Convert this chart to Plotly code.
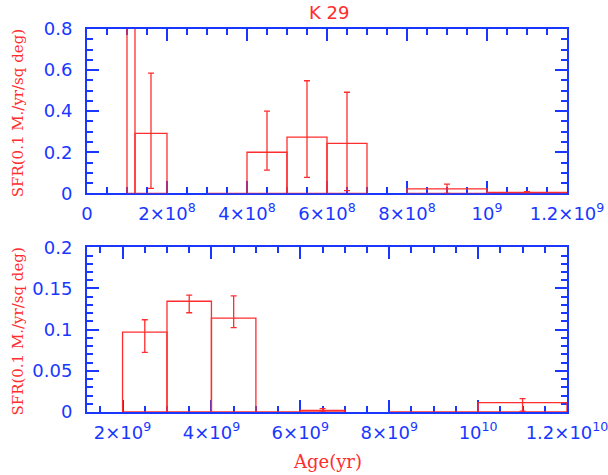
import plotly.graph_objects as go

# ---- data: star-formation-rate histogram for K 29 ----
# upper panel, young ages (bin edges in yr)
young_lo = [1.0e8, 1.2e8, 3.0e8, 4.0e8, 5.0e8, 6.0e8, 8.0e8, 1.0e9]
young_hi = [1.2e8, 2.0e8, 4.0e8, 5.0e8, 6.0e8, 7.0e8, 1.0e9, 1.2e9]
young_sfr = [1.45, 0.292, 0.0, 0.200, 0.274, 0.243, 0.022, 0.005]
young_err_top = [None, 0.585, None, 0.400, 0.548, 0.492, 0.045, 0.008]
young_err_bot = [None, 0.024, None, 0.113, 0.078, 0.013, 0.0, 0.0]

# lower panel, old ages
old_lo = [2.0e9, 3.0e9, 4.0e9, 5.0e9, 6.0e9, 8.0e9, 1.0e10]
old_hi = [3.0e9, 4.0e9, 5.0e9, 6.0e9, 7.0e9, 1.0e10, 1.2e10]
old_sfr = [0.097, 0.1345, 0.114, 0.0, 0.002, 0.0, 0.0113]
old_err_top = [0.112, 0.142, 0.141, None, 0.004, None, 0.0162]
old_err_bot = [0.0725, 0.1205, 0.1025, None, 0.001, None, 0.001]

young_ticks = [0, 2e8, 4e8, 6e8, 8e8, 1e9, 1.2e9]
young_ticktext = ["0", "2×10<sup>8</sup>", "4×10<sup>8</sup>", "6×10<sup>8</sup>",
                  "8×10<sup>8</sup>", "10<sup>9</sup>", "1.2×10<sup>9</sup>"]
old_ticks = [2e9, 4e9, 6e9, 8e9, 1e10, 1.2e10]
old_ticktext = ["2×10<sup>9</sup>", "4×10<sup>9</sup>", "6×10<sup>9</sup>",
                "8×10<sup>9</sup>", "10<sup>10</sup>", "1.2×10<sup>10</sup>"]

RED = "rgb(255,45,45)"
BLUE = "rgb(25,55,255)"


def outline(lo, hi, val):
    """Closed rectangle outline for each histogram bin."""
    xs, ys = [], []
    for a, b, v in zip(lo, hi, val):
        xs += [a, a, b, b, a, None]
        ys += [0, v, v, 0, 0, None]
    return xs, ys


def errors(lo, hi, val, top, bot):
    xs, ys, up, dn = [], [], [], []
    for a, b, v, t, m in zip(lo, hi, val, top, bot):
        if t is None:
            continue
        xs.append((a + b) / 2)
        ys.append(v)
        up.append(t - v)
        dn.append(v - m)
    return xs, ys, up, dn


fig = go.Figure()

for lo, hi, val, top, bot, xa, ya in [
    (young_lo, young_hi, young_sfr, young_err_top, young_err_bot, "x", "y"),
    (old_lo, old_hi, old_sfr, old_err_top, old_err_bot, "x2", "y2"),
]:
    bx, by = outline(lo, hi, val)
    fig.add_trace(go.Scatter(x=bx, y=by, mode="lines", xaxis=xa, yaxis=ya,
                             line=dict(color=RED, width=1.3), hoverinfo="skip",
                             showlegend=False))
    ex, ey, up, dn = errors(lo, hi, val, top, bot)
    fig.add_trace(go.Scatter(x=ex, y=ey, mode="markers", xaxis=xa, yaxis=ya,
                             marker=dict(size=1, color="rgba(0,0,0,0)"),
                             error_y=dict(type="data", array=up, arrayminus=dn,
                                          symmetric=False, color=RED,
                                          thickness=1.3, width=3),
                             showlegend=False))

tickfont = dict(family="DejaVu Sans", size=18, color=BLUE)
common_axis = dict(showline=True, linecolor=BLUE, linewidth=2, mirror="ticks",
                   ticks="inside", tickcolor=BLUE, tickwidth=1.5,
                   showgrid=False, zeroline=False, tickfont=tickfont,
                   layer="below traces", automargin=False,
                   ticklabeloverflow="allow")

fig.update_layout(
    width=608, height=475,
    margin=dict(l=87, r=41, t=29, b=63),
    paper_bgcolor="white", plot_bgcolor="white",
    xaxis=dict(common_axis, domain=[0, 1], anchor="y", range=[0, 1.2e9],
               tickmode="array", tickvals=young_ticks, ticktext=young_ticktext,
               ticklen=12, ticklabelstandoff=3,
               minor=dict(dtick=5e7, tick0=0, ticklen=6, ticks="inside",
                          tickcolor=BLUE, tickwidth=1.5, showgrid=False)),
    yaxis=dict(common_axis, domain=[0.571, 1], anchor="x", range=[0, 0.8],
               tickmode="linear", tick0=0, dtick=0.2, ticklen=12,
               ticklabelstandoff=9,
               minor=dict(dtick=0.05, tick0=0, ticklen=6, ticks="inside",
                          tickcolor=BLUE, tickwidth=1.5, showgrid=False)),
    xaxis2=dict(common_axis, domain=[0, 1], anchor="y2", range=[1.2e9, 1.2e10],
                tickmode="array", tickvals=old_ticks, ticktext=old_ticktext,
                ticklen=12, ticklabelstandoff=3,
                minor=dict(dtick=5e8, tick0=0, ticklen=6, ticks="inside",
                           tickcolor=BLUE, tickwidth=1.5, showgrid=False)),
    yaxis2=dict(common_axis, domain=[0, 0.430], anchor="x2", range=[0, 0.2],
                tickmode="array", tickvals=[0, 0.05, 0.1, 0.15, 0.2],
                ticktext=["0", "0.05", "0.1", "0.15", "0.2"], ticklen=12,
                ticklabelstandoff=9,
                minor=dict(dtick=0.01, tick0=0, ticklen=6, ticks="inside",
                           tickcolor=BLUE, tickwidth=1.5, showgrid=False)),
    annotations=[
        dict(text="K 29", x=0.505, y=1.042, xref="paper", yref="paper",
             showarrow=False, xanchor="center", yanchor="middle",
             font=dict(family="DejaVu Sans", size=18, color=RED)),
        dict(text="SFR(0.1 M./yr/sq deg)", x=-0.143, y=0.781, xref="paper",
             yref="paper", showarrow=False, textangle=-90, xanchor="center",
             yanchor="middle",
             font=dict(family="DejaVu Serif", size=15, color=RED)),
        dict(text="SFR(0.1 M./yr/sq deg)", x=-0.143, y=0.211, xref="paper",
             yref="paper", showarrow=False, textangle=-90, xanchor="center",
             yanchor="middle",
             font=dict(family="DejaVu Serif", size=15, color=RED)),
        dict(text="Age(yr)", x=0.502, y=-0.128, xref="paper", yref="paper",
             showarrow=False, xanchor="center", yanchor="middle",
             font=dict(family="DejaVu Serif", size=18, color=RED)),
    ],
)

fig.write_html("out.html")
